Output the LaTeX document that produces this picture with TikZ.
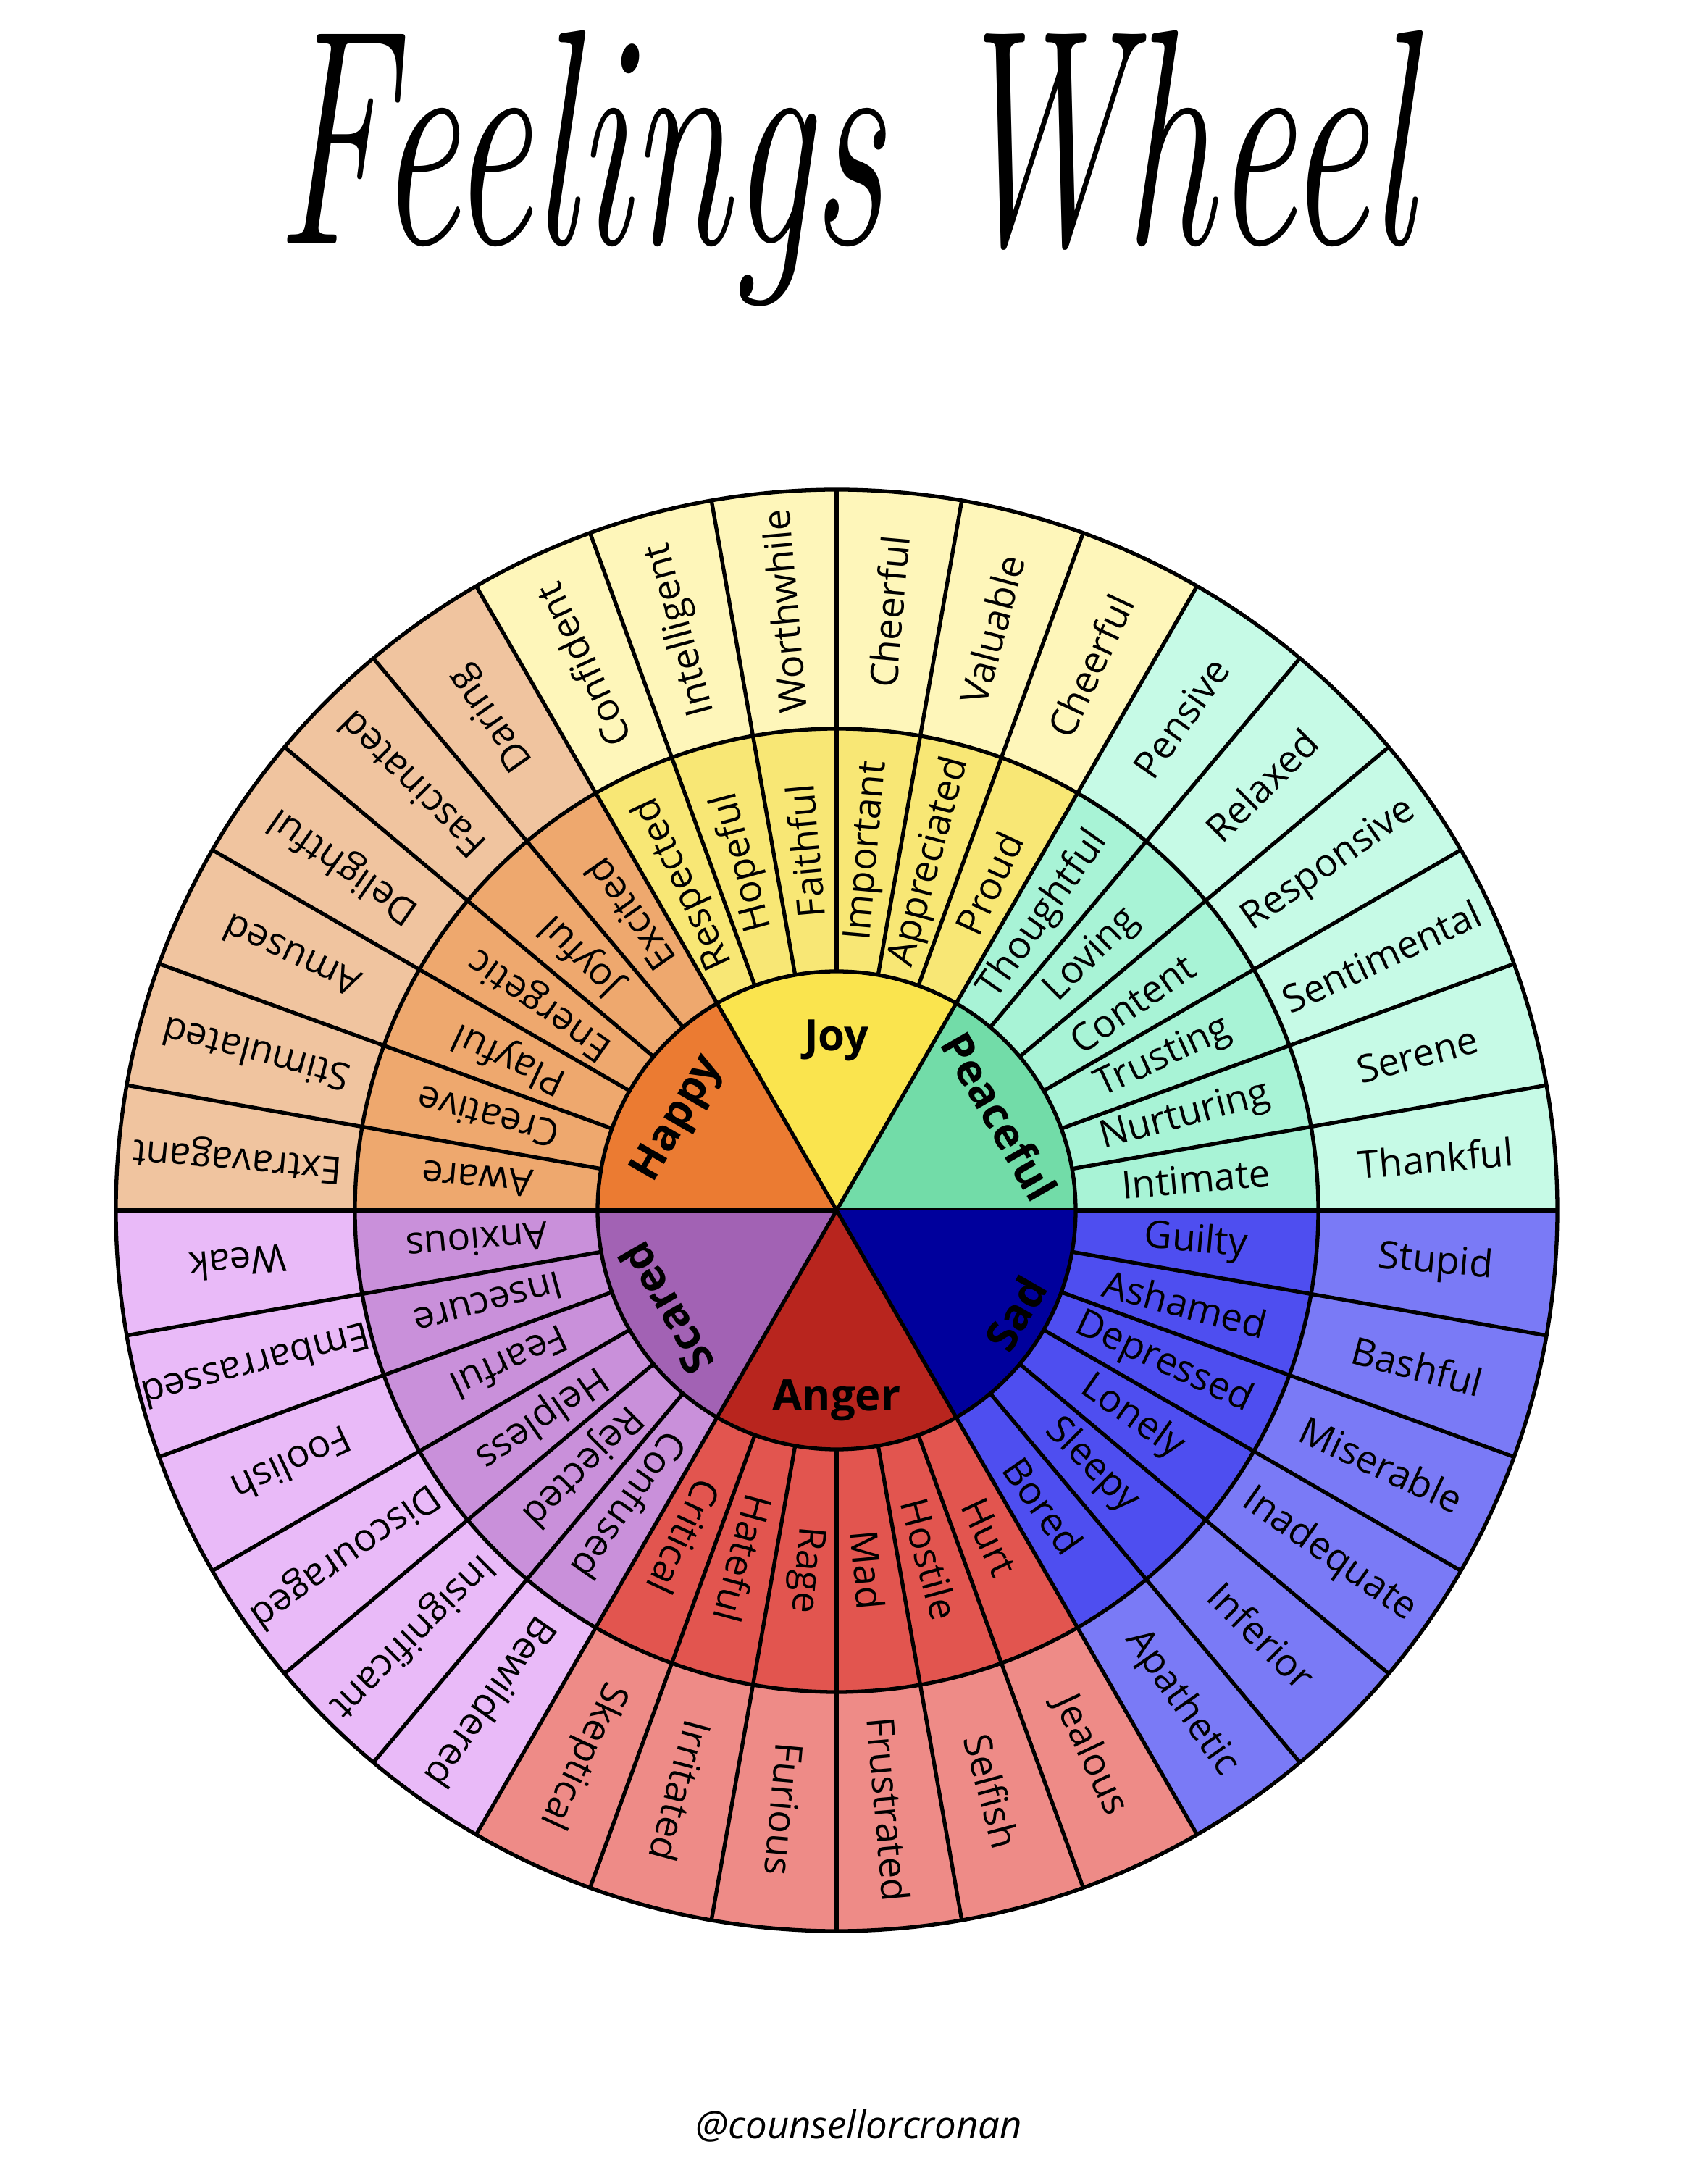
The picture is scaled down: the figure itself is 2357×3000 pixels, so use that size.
\documentclass[tikz,border=0pt]{standalone}
\usepackage{fontspec}
\newfontfamily\wordfont{Open Sans}
\usetikzlibrary{calc}

\definecolor{joyCore}{HTML}{FAE44E}
\definecolor{joyMid}{HTML}{F8E775}
\definecolor{joyOut}{HTML}{FEF6BA}
\definecolor{peacefulCore}{HTML}{72DCA8}
\definecolor{peacefulMid}{HTML}{A8F3D6}
\definecolor{peacefulOut}{HTML}{C6FAE6}
\definecolor{sadCore}{HTML}{00009C}
\definecolor{sadMid}{HTML}{4E4EF0}
\definecolor{sadOut}{HTML}{7A7AF6}
\definecolor{angerCore}{HTML}{B8251E}
\definecolor{angerMid}{HTML}{E2554F}
\definecolor{angerOut}{HTML}{EE8B87}
\definecolor{scaredCore}{HTML}{A262B4}
\definecolor{scaredMid}{HTML}{C990DA}
\definecolor{scaredOut}{HTML}{E9BAF8}
\definecolor{happyCore}{HTML}{EB7B32}
\definecolor{happyMid}{HTML}{EEA86E}
\definecolor{happyOut}{HTML}{F0C49F}

\tikzset{
    wheelline/.style={line width=1.5pt, black},
    word/.style={font=\wordfont\fontsize{15}{15}\selectfont, inner sep=0pt},
    feeling/.style={font=\wordfont\bfseries\fontsize{17}{17}\selectfont, inner sep=0pt}
}

\begin{document}
\begin{tikzpicture}[x=0.01cm, y=0.01cm]
\def\rCore{330}
\def\rMid{665}
\def\rOut{995}

    \path[use as bounding box, fill=white] (-1155,-1329) rectangle (1202,1671);
    \coordinate (O) at (0,0);

    %Sectors
    \foreach \st/\col in {0/peaceful, 60/joy, 120/happy, 180/scared, 240/anger, 300/sad}{
        \fill[\col Out] (O) -- (\st:\rOut) arc[start angle=\st, delta angle=60, radius=\rOut] -- cycle;
        \fill[\col Mid] (O) -- (\st:\rMid) arc[start angle=\st, delta angle=60, radius=\rMid] -- cycle;
        \fill[\col Core] (O) -- (\st:\rCore) arc[start angle=\st, delta angle=60, radius=\rCore] -- cycle;
        \draw[wheelline] (O) -- (\st:\rCore);
    }
    \foreach \a in {0,10,...,350}
        \draw[wheelline] (\a:\rCore) -- (\a:\rOut);
    \draw[wheelline] (O) circle [radius=\rCore];
    \draw[wheelline] (O) circle [radius=\rMid];
    \draw[wheelline] (O) circle [radius=\rOut];

    %Core feelings
    \node[feeling] (joy) at (90:235) {Joy};
    \node[feeling, rotate=-60] (peaceful) at (30:260) {Peaceful};
    \node[feeling, rotate=60] (sad) at (-30:285) {Sad};
    \node[feeling] (anger) at (-90:262) {Anger};
    \node[feeling, rotate=120] (scared) at (210:272) {Scared};
    \node[feeling, rotate=60] (happy) at (150:252) {Happy};

    %Middle ring
    \foreach \a/\w in {5/Intimate, 15/Nurturing, 25/Trusting, 35/Content, 45/Loving, 55/Thoughtful,
        65/Proud, 75/Appreciated, 85/Important, 95/Faithful, 105/Hopeful, 115/Respected,
        125/Excited, 135/Joyful, 145/Energetic, 155/Playful, 165/Creative, 175/Aware,
        185/Anxious, 195/Insecure, 205/Fearful, 215/Helpless, 225/Rejected, 235/Confused,
        245/Critical, 255/Hateful, 265/Rage, 275/Mad, 285/Hostile, 295/Hurt,
        305/Bored, 315/Sleepy, 325/Lonely, 335/Depressed, 345/Ashamed, 355/Guilty}
        \node[word, rotate=\a] (mid-\a) at (\a:498) {\w};

    %Outer ring
    \foreach \a/\w in {5/Thankful, 15/Serene, 25/Sentimental, 35/Responsive, 45/Relaxed, 55/Pensive,
        65/Cheerful, 75/Valuable, 85/Cheerful, 95/Worthwhile, 105/Intelligent, 115/Confident,
        125/Daring, 135/Fascinated, 145/Delightful, 155/Amused, 165/Stimulated, 175/Extravagant,
        185/Weak, 195/Embarrassed, 205/Foolish, 215/Discouraged, 225/Insignificant, 235/Bewildered,
        245/Skeptical, 255/Irritated, 265/Furious, 275/Frustrated, 285/Selfish, 295/Jealous,
        305/Apathetic, 315/Inferior, 325/Inadequate, 335/Miserable, 345/Bashful, 355/Stupid}
        \node[word, rotate=\a] (out-\a) at (\a:830) {\w};

    %Title and signature
    \node[anchor=base, font=\itshape\fontsize{71}{71}\selectfont] (title) at (11,1334) {\scalebox{1}[1.7]{Feelings Wheel}};
    \node[font=\wordfont\itshape\fontsize{15}{15}\selectfont] (handle) at (31,-1264) {@counsellorcronan};
\end{tikzpicture}
\end{document}
